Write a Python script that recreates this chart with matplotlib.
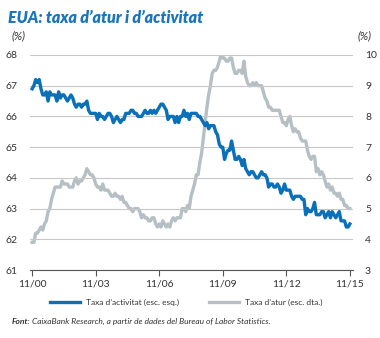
import matplotlib
matplotlib.use("Agg")
import matplotlib.pyplot as plt
import numpy as np

# Monthly data, Nov 2000 .. Nov 2015
activity = [66.9, 67.0,
    67.2, 67.1, 67.2, 66.9, 66.7, 66.7, 66.8, 66.5, 66.8, 66.7, 66.7, 66.7,
    66.5, 66.8, 66.6, 66.7, 66.7, 66.6, 66.5, 66.6, 66.7, 66.6, 66.4, 66.3,
    66.4, 66.4, 66.3, 66.4, 66.4, 66.5, 66.2, 66.1, 66.1, 66.1, 66.1, 65.9,
    66.1, 66.0, 66.0, 65.9, 66.0, 66.1, 66.1, 66.0, 65.8, 65.9, 66.0, 65.9,
    65.8, 65.9, 65.9, 66.1, 66.1, 66.1, 66.2, 66.2, 66.1, 66.1, 66.0, 66.0,
    66.0, 66.1, 66.2, 66.1, 66.1, 66.2, 66.1, 66.2, 66.1, 66.2, 66.3, 66.4,
    66.4, 66.3, 66.2, 65.9, 66.0, 66.0, 66.0, 65.8, 66.0, 65.8, 66.0, 66.0,
    66.2, 66.0, 66.1, 65.9, 66.1, 66.1, 66.1, 66.1, 66.0, 66.0, 65.9, 65.8,
    65.7, 65.8, 65.6, 65.7, 65.7, 65.7, 65.5, 65.4, 65.1, 65.0, 65.0, 64.6,
    64.8, 64.9, 64.9, 65.2, 64.9, 64.6, 64.6, 64.7, 64.6, 64.4, 64.6, 64.3,
    64.2, 64.1, 64.2, 64.2, 64.1, 64.0, 64.0, 64.1, 64.2, 64.1, 64.1, 64.0,
    63.7, 63.8, 63.8, 63.7, 63.7, 63.8, 63.7, 63.5, 63.6, 63.8, 63.6, 63.6,
    63.6, 63.4, 63.3, 63.4, 63.4, 63.4, 63.4, 63.3, 63.3, 62.8, 63.0, 62.9,
    62.9, 63.0, 63.2, 62.8, 62.8, 62.8, 62.9, 62.9, 62.7, 62.8, 62.9, 62.7,
    62.9, 62.8, 62.7, 62.8, 62.9, 62.6, 62.6, 62.6, 62.4, 62.4, 62.5]

unemployment = [3.9, 3.9,
    4.2, 4.2, 4.3, 4.4, 4.3, 4.5, 4.6, 4.9, 5.0, 5.3, 5.5, 5.7,
    5.7, 5.7, 5.7, 5.9, 5.8, 5.8, 5.8, 5.7, 5.7, 5.7, 5.9, 6.0,
    5.8, 5.9, 5.9, 6.0, 6.1, 6.3, 6.2, 6.1, 6.1, 6.0, 5.8, 5.7,
    5.7, 5.6, 5.8, 5.6, 5.6, 5.6, 5.5, 5.4, 5.4, 5.5, 5.4, 5.4,
    5.3, 5.4, 5.2, 5.2, 5.1, 5.0, 5.0, 4.9, 5.0, 5.0, 5.0, 4.9,
    4.7, 4.8, 4.7, 4.7, 4.6, 4.6, 4.7, 4.7, 4.5, 4.4, 4.5, 4.4,
    4.6, 4.5, 4.4, 4.5, 4.4, 4.6, 4.7, 4.6, 4.7, 4.7, 4.7, 5.0,
    5.0, 4.9, 5.1, 5.0, 5.4, 5.6, 5.8, 6.1, 6.1, 6.5, 6.8, 7.3,
    7.8, 8.3, 8.7, 9.0, 9.4, 9.5, 9.5, 9.6, 9.8, 10.0, 9.9, 9.9,
    9.8, 9.8, 9.9, 9.9, 9.6, 9.4, 9.4, 9.5, 9.5, 9.4, 9.8, 9.3,
    9.1, 9.0, 9.0, 9.1, 9.0, 9.1, 9.0, 9.0, 9.0, 8.8, 8.6, 8.5,
    8.3, 8.3, 8.2, 8.2, 8.2, 8.2, 8.2, 8.0, 7.8, 7.8, 7.7, 7.9,
    8.0, 7.7, 7.5, 7.6, 7.5, 7.5, 7.3, 7.2, 7.2, 7.2, 6.9, 6.7,
    6.6, 6.7, 6.7, 6.2, 6.3, 6.1, 6.2, 6.1, 5.9, 5.7, 5.8, 5.6,
    5.7, 5.5, 5.5, 5.4, 5.5, 5.3, 5.3, 5.1, 5.1, 5.0, 5.0]

x_tick_labels = ["11/00", "11/03", "11/06", "11/09", "11/12", "11/15"]
left_ticks = [61, 62, 63, 64, 65, 66, 67, 68]
right_ticks = [3, 4, 5, 6, 7, 8, 9, 10]

title = "EUA: taxa d\u2019atur i d\u2019activitat"
label_activity = "Taxa d\u2019activitat (esc. esq.)"
label_unemp = "Taxa d\u2019atur (esc. dta.)"

BLUE = "#0a70b8"
GRAY = "#b5bfc4"
GRID = "#c8c8c8"
TXT = "#333333"

plt.rcParams['font.family'] = ['Lato', 'DejaVu Sans']

fig = plt.figure(figsize=(3.8, 3.38), dpi=100)
ax = fig.add_axes([29.5/380, 1-270/338, (352.5-29.5)/380, (270-55)/338])
ax2 = ax.twinx()
ax.set_zorder(ax2.get_zorder() + 1)
ax.patch.set_visible(False)

months = np.arange(len(activity))
ax2.plot(months, unemployment, color=GRAY, lw=2.4, solid_joinstyle='round')
ax.plot(months, activity, color=BLUE, lw=2.4, solid_joinstyle='round')

ax.set_xlim(-1.5, 181.5)
ax.set_ylim(61, 68)
ax2.set_ylim(3, 10)
ax.set_yticks(left_ticks)
ax2.set_yticks(right_ticks)
ax.set_xticks(np.arange(0, 181, 36))
ax.set_xticklabels(x_tick_labels)

for a in (ax, ax2):
    for s in a.spines.values():
        s.set_visible(False)
ax.spines['bottom'].set_visible(True)
ax.spines['bottom'].set_color("#555555")
ax.spines['bottom'].set_linewidth(0.8)

ax.yaxis.grid(True, color=GRID, lw=0.8)
ax.tick_params(axis='y', length=0, labelsize=7.5, labelcolor=TXT, pad=9)
ax2.tick_params(axis='y', length=0, labelsize=7.5, labelcolor=TXT, pad=9)
ax.tick_params(axis='x', length=4, width=0.8, color="#555555", labelsize=7.5,
               labelcolor=TXT, pad=3, direction='out')

fig.text(8/380, 1-18/338, title, color="#1a75bb", fontsize=11.5,
         fontweight='heavy', fontstyle='italic', va='center', ha='left')
fig.text(12/380, 1-36/338, "(%)", fontsize=8, fontstyle='italic',
         color=TXT, va='center', ha='left')
fig.text(372/380, 1-36/338, "(%)", fontsize=8, fontstyle='italic',
         color=TXT, va='center', ha='right')

# legend
ly = 1 - 302/338
fig.add_artist(plt.Line2D([50/380, 80/380], [ly, ly], color=BLUE, lw=2.4))
fig.text(86/380, ly, label_activity, fontsize=6, color=TXT, va='center', ha='left')
fig.add_artist(plt.Line2D([209/380, 239/380], [ly, ly], color=GRAY, lw=2.4))
fig.text(245/380, ly, label_unemp, fontsize=6, color=TXT, va='center', ha='left')

fig.text(12/380, 1-321/338, "Font:", fontsize=6, fontweight='bold',
         fontstyle='italic', color=TXT, va='center', ha='left')
fig.text(32.5/380, 1-321/338,
         "CaixaBank Research, a partir de dades del Bureau of Labor Statistics.",
         fontsize=6, fontstyle='italic', color=TXT, va='center', ha='left')

fig.savefig("out.png", dpi=100)
